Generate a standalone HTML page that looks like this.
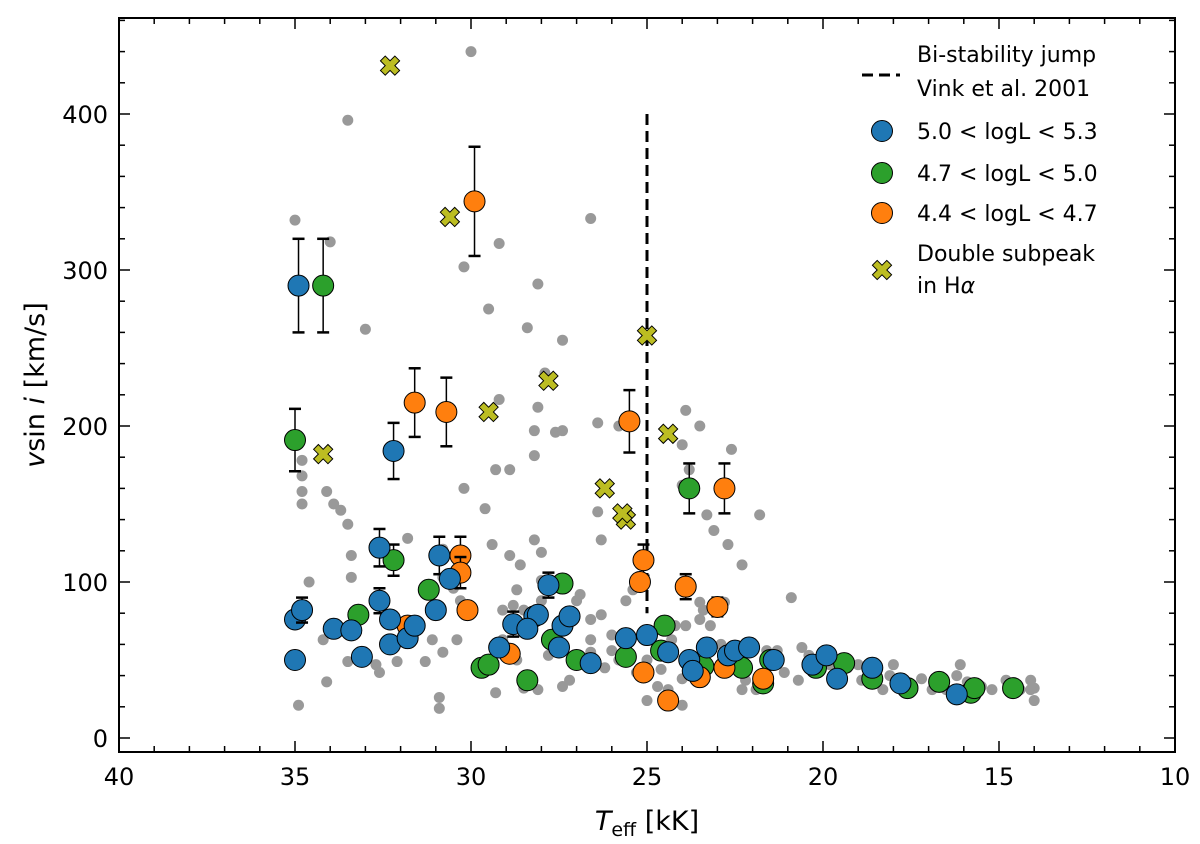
<!DOCTYPE html>
<html><head><meta charset="utf-8"><style>
body{margin:0;background:#fff}
svg{display:block;font-family:"DejaVu Sans","Liberation Sans",sans-serif}
</style></head><body>
<svg id="chart" width="1200" height="844" viewBox="0 0 1200 844" xmlns="http://www.w3.org/2000/svg">
<g id="grayL"></g>
<g id="marks"></g>
<g id="axes"></g>
<g id="legend"></g>
</svg>
<script>
const grayT=[30,33.5,35,34,33,26.6,29.2,29.5,30.2,28.1,28.4,27.4,27.9,28.1,29.2,27.6,28.2,30.2,29.6,29.3,28.9,28.2,27.4,26.4,25.8,26.4,26.3,23.9,23.5,24.0,23.8,24.0,22.6,23.3,23.1,22.7,21.8,22.3,20.9,22.8,34.1,34.8,34.8,34.8,34.8,33.9,33.7,33.5,33.4,33.4,34.6,34.2,34.1,33.0,33.5,32.7,32.6,32.1,34.9,31.8,30.8,30.8,30.5,31.1,30.8,31.3,30.9,30.9,30.4,30.3,30.3,28.9,29.4,28.6,28.2,28.0,28.7,28.8,28.5,29.1,28.0,28.0,29.1,28.7,29.7,29.3,28.5,28.1,27.8,27.4,27.2,27.0,26.9,26.6,26.6,26.3,26.0,26.0,26.2,26.6,25.6,25.4,25.8,25.3,25.0,24.6,24.7,25.0,24.0,24.4,24.0,24.3,24.2,23.9,23.5,23.4,23.5,23.2,22.9,22.5,22.3,22.2,21.9,21.6,21.4,21.3,21.1,20.7,20.6,20.4,20.1,19.8,19.3,19.0,18.9,18.6,18.3,18.1,18.0,17.6,17.2,16.9,16.7,16.5,16.2,16.1,15.9,15.5,15.2,14.8,14.6,14.4,14.1,14.0,14.0,14.1];
const grayV=[440,396,332,318,262,333,317,275,302,291,263,255,234,212,217,196,197,160,147,172,172,181,197,202,200,145,127,210,200,188,172,162,185,143,133,124,143,111,90,87,158,158,168,178,150,150,146,137,117,103,100,63,36,53,49,47,42,49,21,128,121,103,96,63,55,49,26,19,63,88,119,117,124,111,127,119,95,85,82,82,101,88,63,50,45,29,32,31,53,33,37,88,92,76,63,79,66,56,45,55,88,95,50,42,50,44,33,24,38,31,21,63,72,72,76,82,87,72,60,50,31,37,31,56,47,56,42,37,58,53,50,47,45,47,37,37,31,40,47,32,38,31,38,31,40,47,36,33,31,37,31,31,37,32,24,31];
const blueT=[34.9,35,34.8,35,32.2,32.6,33.9,33.4,33.1,32.3,32.6,32.3,31.8,31.6,30.9,30.6,31.0,29.2,28.8,28.2,28.1,27.8,28.4,27.4,27.2,27.5,26.6,25.6,25.0,24.4,23.8,23.7,23.3,22.7,22.5,22.1,21.4,20.3,19.9,19.6,18.6,17.8,16.2];
const blueV=[290,76,82,50,184,122,70,69,52,60,88,76,64,72,117,102,82,58,73,78,79,98,70,72,78,58,48,64,66,55,50,43,58,53,56,58,50,47,53,38,45,35,28];
const blueE=[30,0,8,0,18,12,0,0,0,0,8,0,0,0,12,0,0,0,8,0,0,8,0,0,0,0,0,0,0,0,0,0,0,0,0,0,0,0,0,0,0,0,0];
const greenT=[35,34.2,33.2,32.2,31.2,29.7,29.5,28.4,27.7,27.4,27.0,25.6,24.5,23.8,24.6,23.4,22.3,21.7,21.5,20.2,19.4,18.6,17.6,16.7,15.8,15.7,14.6];
const greenV=[191,290,79,114,95,45,47,37,63,99,50,52,72,160,56,46,45,35,50,45,48,38,32,36,29,32,32];
const greenE=[20,30,0,10,0,0,0,0,0,0,0,0,0,16,0,0,0,0,0,0,0,0,0,0,0,0,0];
const orangeT=[29.9,31.6,30.7,25.5,22.8,30.3,30.3,30.1,31.8,28.9,25.1,25.2,23.9,23.0,25.1,24.4,23.5,22.8,21.7];
const orangeV=[344,215,209,203,160,117,106,82,72,54,114,100,97,84,42,24,39,45,38];
const orangeE=[35,22,22,20,16,12,10,0,0,0,10,0,8,6,0,0,0,0,0];
const crossT=[32.3,30.6,29.5,27.8,34.2,26.2,25.6,25.7,25.0,24.4];
const crossV=[431,334,209,229,182,160,140,144,258,195];
const xTicks=[40,35,30,25,20,15,10];
const yTicks=[0,100,200,300,400];
const L=119,R=1175,T=18,B=752;
const X=t=>L+(40-t)*(R-L)/30;
const Y=v=>738-v*1.56;
const NS="http://www.w3.org/2000/svg";
function mk(tag,attrs,parent){const e=document.createElementNS(NS,tag);for(const k in attrs)e.setAttribute(k,attrs[k]);parent.appendChild(e);return e;}
const gl=document.getElementById('grayL'),mg=document.getElementById('marks'),ax=document.getElementById('axes'),lg=document.getElementById('legend');
grayT.forEach((t,i)=>{const c=mk('circle',{cx:X(t),cy:Y(grayV[i]),r:5.5,fill:'#999'},gl);

});
const dl=mk('line',{x1:X(25),x2:X(25),y1:Y(400),y2:Y(80),stroke:'#000','stroke-width':3,'stroke-dasharray':'11,6'},mg);


function series(Ts,Vs,Es,col,name){Ts.forEach((t,i)=>{const x=X(t),y=Y(Vs[i]);
if(Es[i]>0){const g=mk('g',{stroke:'#000','stroke-width':1.5},mg);


mk('line',{x1:x,x2:x,y1:Y(Vs[i]-Es[i]),y2:Y(Vs[i]+Es[i])},g);
mk('line',{x1:x-6,x2:x+6,y1:Y(Vs[i]-Es[i]),y2:Y(Vs[i]-Es[i]),'stroke-width':2.5},g);
mk('line',{x1:x-6,x2:x+6,y1:Y(Vs[i]+Es[i]),y2:Y(Vs[i]+Es[i]),'stroke-width':2.5},g);}
const c=mk('circle',{cx:x,cy:y,r:10.5,fill:col,stroke:'#000','stroke-width':1},mg);

});}
series(greenT,greenV,greenE,'#2ca02c','green');
series(orangeT,orangeV,orangeE,'#ff7f0e','orange');
series(blueT,blueV,blueE,'#1f77b4','blue');
const crossPath='M-8,-4 L-4,-8 L0,-4 L4,-8 L8,-4 L4,0 L8,4 L4,8 L0,4 L-4,8 L-8,4 L-4,0 Z';
crossT.forEach((t,i)=>{const p=mk('path',{d:crossPath,transform:`translate(${X(t)},${Y(crossV[i])}) scale(1.2)`,fill:'#bcbd22',stroke:'#000','stroke-width':0.8},mg);

});
const fr=mk('rect',{x:L,y:T,width:R-L,height:B-T,fill:'none',stroke:'#000','stroke-width':2},ax);


for(let t=10;t<=40;t++){const x=X(t),len=t%5===0?11:6;
mk('line',{x1:x,x2:x,y1:B,y2:B-len,stroke:'#000','stroke-width':1.5},ax);
mk('line',{x1:x,x2:x,y1:T,y2:T+len,stroke:'#000','stroke-width':1.5},ax);}
xTicks.forEach(t=>{const e=mk('text',{x:X(t),y:785,'text-anchor':'middle','font-size':24},ax);e.textContent=t;

});
for(let v=0;v<=460;v+=20){const y=Y(v),len=v%100===0?11:6;
mk('line',{x1:L,x2:L+len,y1:y,y2:y,stroke:'#000','stroke-width':1.5},ax);
mk('line',{x1:R,x2:R-len,y1:y,y2:y,stroke:'#000','stroke-width':1.5},ax);}
yTicks.forEach(v=>{const e=mk('text',{x:108,y:Y(v)+9,'text-anchor':'end','font-size':24},ax);e.textContent=v;

});
</script>
<svg style="position:absolute;left:0;top:0" width="1200" height="844">
<text x="647" y="830" text-anchor="middle" font-family="DejaVu Sans, sans-serif" font-size="27"><tspan font-style="italic">T</tspan><tspan font-size="19" dy="6">eff</tspan><tspan dy="-6">  [kK]</tspan></text>
<text transform="translate(44,385) rotate(-90)" text-anchor="middle" font-family="DejaVu Sans, sans-serif" font-size="27"><tspan font-style="italic">v</tspan>sin <tspan font-style="italic">i</tspan>  [km/s]</text>
<g font-family="DejaVu Sans, sans-serif" font-size="22">
<line x1="862" x2="900" y1="75" y2="75" stroke="#000" stroke-width="3" stroke-dasharray="11,6"/>
<text x="917" y="62">Bi-stability jump</text>
<text x="917" y="96">Vink et al. 2001</text>
<circle cx="882" cy="131" r="10.5" fill="#1f77b4" stroke="#000"/>
<text x="917" y="139">5.0 &lt; logL &lt; 5.3</text>
<circle cx="882" cy="173" r="10.5" fill="#2ca02c" stroke="#000"/>
<text x="917" y="181">4.7 &lt; logL &lt; 5.0</text>
<circle cx="882" cy="213" r="10.5" fill="#ff7f0e" stroke="#000"/>
<text x="917" y="221">4.4 &lt; logL &lt; 4.7</text>
<path d="M-8,-4 L-4,-8 L0,-4 L4,-8 L8,-4 L4,0 L8,4 L4,8 L0,4 L-4,8 L-8,4 L-4,0 Z" transform="translate(882,270) scale(1.2)" fill="#bcbd22" stroke="#000" stroke-width="0.8"/>
<text x="917" y="261">Double subpeak</text>
<text x="917" y="293">in H<tspan font-style="italic">α</tspan></text>
</g>
</svg>
</body></html>
